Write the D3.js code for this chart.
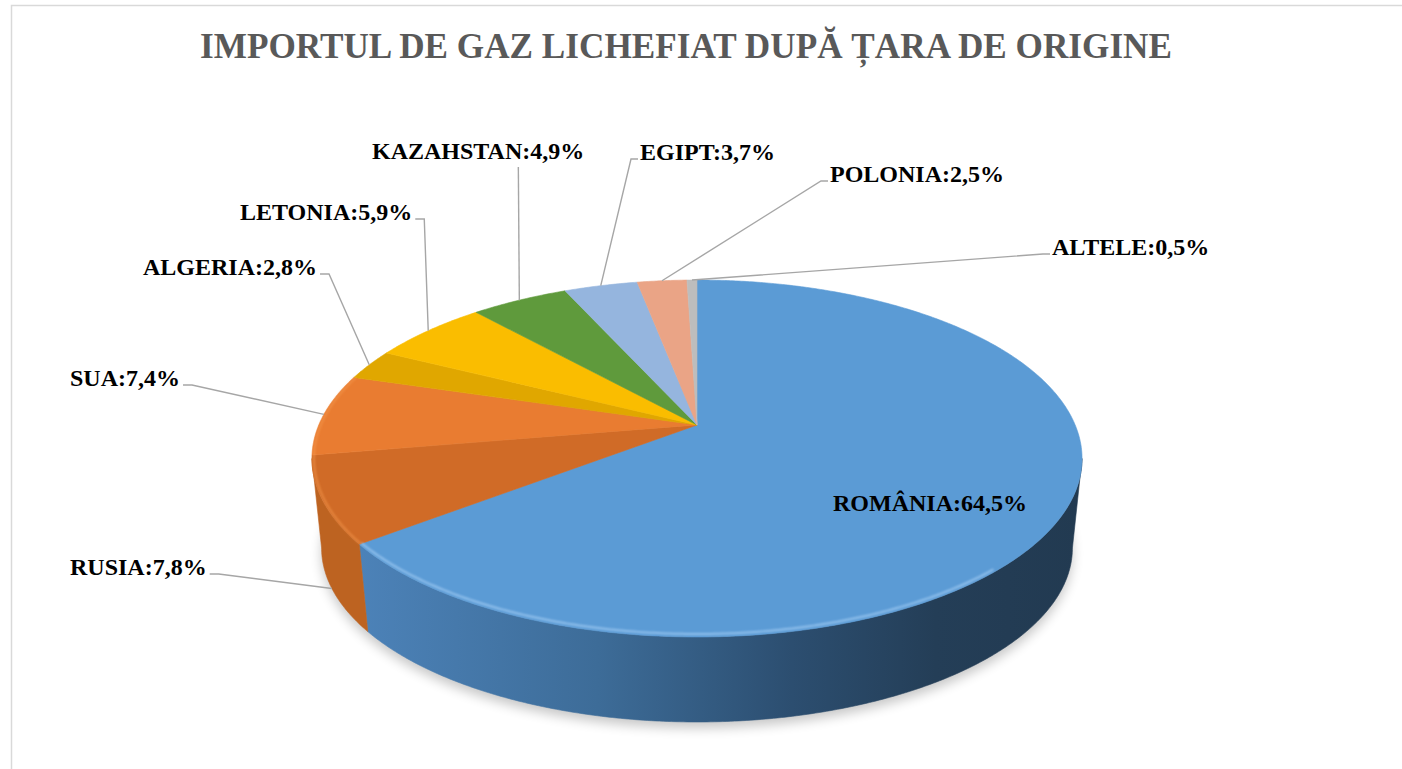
<!DOCTYPE html>
<html>
<head>
<meta charset="utf-8">
<script src="https://cdn.jsdelivr.net/npm/d3@7"></script>
<style>
    body { margin:0; background:#ffffff; }
    svg { display:block; }
</style>
</head>
<body>
<div id="plot"></div>
<script>

// values
var countries = ["ROMÂNIA","RUSIA","SUA","ALGERIA","LETONIA","KAZAHSTAN","EGIPT","POLONIA","ALTELE"];
var shares = [64.5, 7.8, 7.4, 2.8, 5.9, 4.9, 3.7, 2.5, 0.5];
var chartTitle = "IMPORTUL DE GAZ LICHEFIAT DUPĂ ȚARA DE ORIGINE";

// styles
var topColors = ["#5b9bd5","#d06b27","#e97c31","#e0a700","#fabd00","#5f9a3c","#95b5de","#eaa486","#bdbdbd"];
var sideColors = ["url(#blueSide)","#bd6321","#d2702b","#c99600","#e0a900","#55893a","#8aa6cc","#d39478","#a9a9a9"];

// label layout (text left x, baseline y) and which edge the leader joins
var labelPos = [[833,511],[70,575],[70,386],[143,275],[240,220],[372,159],[640,160],[830,182],[1052,255]];
var labelJoin = ["none","right","right","right","right","bottom","left","left","left"];

window.onload = function(){

    buildChart();

};

function buildChart(){

    var width = 1402;
    var height = 769;

    // perspective of the pie
    var cx = 697, cy = 425;
    var sx = 378.2, sy = 172.2;
    var persp = 0.1877;
    var shrink = 0.975;
    var depth = 90.3;

    var thetaL = Math.acos(-persp);
    var thetaR = 2 * Math.PI - thetaL;

    function project(theta, r, bottom){
        var u = r * Math.sin(theta);
        var v = -r * Math.cos(theta);
        var w = 1 - persp * v;
        if(bottom){
            return [cx + shrink * sx * u / w, cy + shrink * sy * v / w + depth];
        }
        return [cx + sx * u / w, cy + sy * v / w];
    }

    function arcPoints(a0, a1, bottom){
        var pts = [];
        var n = Math.max(2, Math.ceil(Math.abs(a1 - a0) / (Math.PI / 360)));
        for(let i = 0; i <= n; i++){
            pts.push(project(a0 + (a1 - a0) * i / n, 1, bottom));
        }
        return pts;
    }

    var line = d3.line();

    var pie = d3.pie().sort(null).value(d => d);
    var arcs = pie(shares);

    var svg = d3.select("#plot")
                .append("svg")
                .attr("width", width)
                .attr("height", height);

    var defs = svg.append("defs");

    var grad = defs.append("linearGradient")
        .attr("id", "blueSide")
        .attr("gradientUnits", "userSpaceOnUse")
        .attr("x1", 360).attr("x2", 1080)
        .attr("y1", 0).attr("y2", 0);
    [[0,"#4c82b8"],[0.33,"#3d6c98"],[0.6,"#2c4e70"],[0.8,"#243e57"],[1,"#223a51"]].forEach(s => {
        grad.append("stop").attr("offset", s[0]).attr("stop-color", s[1]);
    });

    var blur = defs.append("filter")
        .attr("id", "shadowBlur")
        .attr("x", "-20%").attr("y", "-20%")
        .attr("width", "140%").attr("height", "140%");
    blur.append("feGaussianBlur").attr("stdDeviation", 6);

    var soft = defs.append("filter").attr("id", "soft");
    soft.append("feGaussianBlur").attr("stdDeviation", 1);

    // frame
    svg.append("path")
        .attr("d", "M11.5," + height + "V5.5H" + width)
        .attr("fill", "none")
        .attr("stroke", "#d9d9d9")
        .attr("stroke-width", 1.5);

    // title
    svg.append("text")
        .attr("x", 686)
        .attr("y", 58)
        .attr("text-anchor", "middle")
        .attr("font-family", "'Liberation Serif','Times New Roman',serif")
        .attr("font-weight", "bold")
        .attr("font-size", 35)
        .attr("fill", "#595959")
        .attr("textLength", 972)
        .attr("lengthAdjust", "spacingAndGlyphs")
        .text(chartTitle);

    // shadow under the pie
    svg.append("path")
        .attr("d", line(arcPoints(0, 2 * Math.PI, true)) + "Z")
        .attr("transform", "translate(0,6)")
        .attr("fill", "#000")
        .attr("opacity", 0.22)
        .attr("filter", "url(#shadowBlur)");

    // sides of the front slices
    svg.append("g")
        .selectAll("path")
        .data(arcs.filter(d => d.endAngle > thetaL && d.startAngle < thetaR))
        .enter()
        .append("path")
        .attr("d", d => {
            var t0 = Math.max(d.startAngle, thetaL);
            var t1 = Math.min(d.endAngle, thetaR);
            var pts = arcPoints(t0, t1, false).concat(arcPoints(t1, t0, true));
            return line(pts) + "Z";
        })
        .attr("fill", d => sideColors[d.index])
        .attr("stroke", d => sideColors[d.index])
        .attr("stroke-width", 0.6);

    // top faces
    svg.append("g")
        .selectAll("path")
        .data(arcs)
        .enter()
        .append("path")
        .attr("d", d => line([[cx, cy]].concat(arcPoints(d.startAngle, d.endAngle, false))) + "Z")
        .attr("fill", d => topColors[d.index])
        .attr("stroke", d => topColors[d.index])
        .attr("stroke-width", 0.6)
        .attr("stroke-linejoin", "round");

    // bevel highlight on the front rim
    svg.append("path")
        .attr("d", line(arcPoints(2.4, arcs[0].endAngle - 0.01, false).map(p => [p[0], p[1] - 3])))
        .attr("fill", "none")
        .attr("stroke", "#a6cff5")
        .attr("stroke-width", 2)
        .attr("opacity", 0.75)
        .attr("filter", "url(#soft)");

    svg.append("path")
        .attr("d", line(arcPoints(arcs[1].startAngle + 0.005, arcs[2].endAngle, false).map(p => [p[0] + 2, p[1]])))
        .attr("fill", "none")
        .attr("stroke", "#f59a50")
        .attr("stroke-width", 2)
        .attr("opacity", 0.6)
        .attr("filter", "url(#soft)");

    // labels
    var labels = svg.append("g")
        .selectAll("text")
        .data(arcs)
        .enter()
        .append("text")
        .attr("x", d => labelPos[d.index][0])
        .attr("y", d => labelPos[d.index][1])
        .attr("font-family", "'Liberation Serif','Times New Roman',serif")
        .attr("font-weight", "bold")
        .attr("font-size", 24)
        .attr("fill", "#000")
        .text(d => countries[d.index] + ":" + d3.format(".1f")(d.data).replace(".", ",") + "%");

    // leader lines
    var leaders = [];
    labels.each(function(d){
        var join = labelJoin[d.index];
        if(join == "none"){ return; }
        var mid = (d.startAngle + d.endAngle) / 2;
        var onSide = mid > thetaL && mid < thetaR;
        var anchor = project(mid, 1, onSide);
        var x = labelPos[d.index][0];
        var y = labelPos[d.index][1] - 1;
        var len = this.getComputedTextLength();
        var pts;
        if(join == "right"){
            pts = [anchor, [x + len + 12, y], [x + len + 3, y]];
        } else if(join == "left"){
            pts = [anchor, [x - 9, y], [x - 2, y]];
        } else {
            pts = [anchor, [anchor[0] - 1, y + 9]];
        }
        leaders.push(pts);
    });

    svg.insert("g", "g:last-of-type")
        .selectAll("path")
        .data(leaders)
        .enter()
        .append("path")
        .attr("d", d => line(d))
        .attr("fill", "none")
        .attr("stroke", "#a6a6a6")
        .attr("stroke-width", 1.4);

}

</script>
</body>
</html>
